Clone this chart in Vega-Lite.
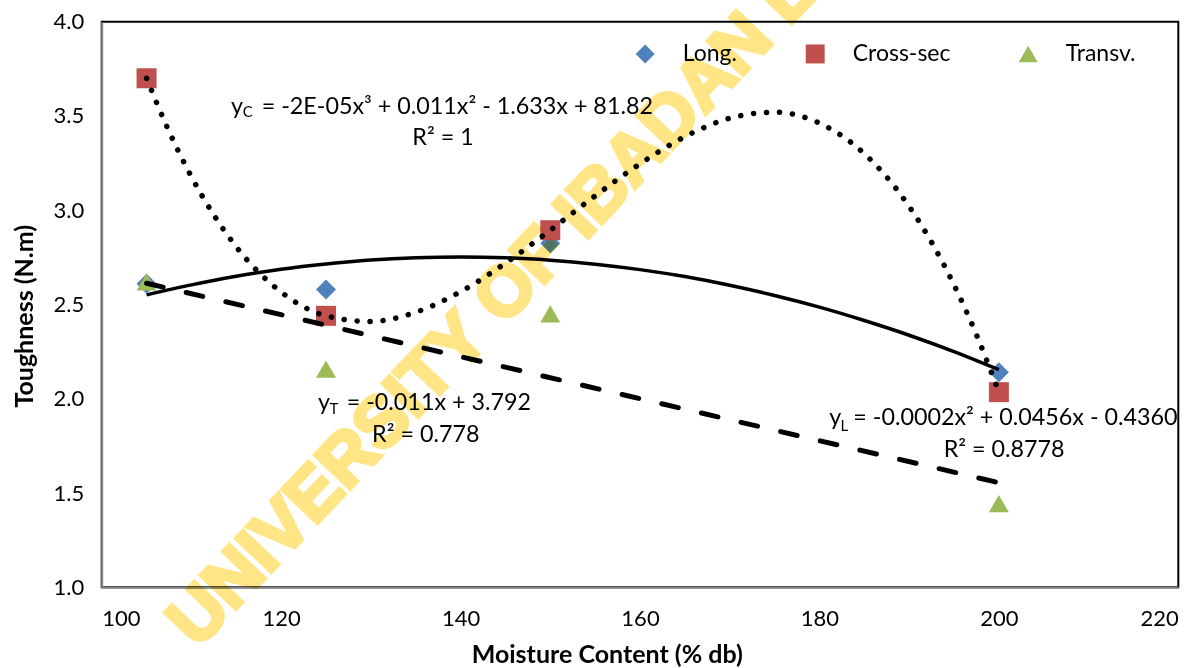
{
  "$schema": "https://vega.github.io/schema/vega-lite/v6.json",
  "width": 1076.6,
  "height": 565.6,
  "autosize": {"type": "none"},
  "padding": {"left": 101.7, "top": 21.7, "right": 22.7, "bottom": 80.7},
  "background": "white",
  "config": {
    "view": {"stroke": "#000000", "strokeWidth": 2},
    "font": "Lato",
    "axis": {"grid": false, "ticks": false, "domainColor": "#868686", "domainWidth": 2, "labelFont": "Lato", "labelFontSize": 22, "labelColor": "#000000", "titleFont": "Lato", "titleFontSize": 25, "titleFontWeight": "bold", "titleColor": "#000000"},
    "legend": {"labelFont": "Lato", "labelFontSize": 23, "labelColor": "#000000"}
  },
  "datasets": {
    "points": [
      {"series": "Long.", "mc": 105, "t": 2.61},
      {"series": "Long.", "mc": 125, "t": 2.58},
      {"series": "Long.", "mc": 150, "t": 2.825},
      {"series": "Long.", "mc": 200, "t": 2.14},
      {"series": "Cross-sec", "mc": 105, "t": 3.70},
      {"series": "Cross-sec", "mc": 125, "t": 2.44},
      {"series": "Cross-sec", "mc": 150, "t": 2.894},
      {"series": "Cross-sec", "mc": 200, "t": 2.035},
      {"series": "Transv.", "mc": 105, "t": 2.62},
      {"series": "Transv.", "mc": 125, "t": 2.157},
      {"series": "Transv.", "mc": 150, "t": 2.45},
      {"series": "Transv.", "mc": 200, "t": 1.444}
    ],
    "trend": [
      {"fit": "L", "mc": 105, "t": 2.551},
      {"fit": "L", "mc": 110, "t": 2.604},
      {"fit": "L", "mc": 115, "t": 2.650},
      {"fit": "L", "mc": 120, "t": 2.687},
      {"fit": "L", "mc": 125, "t": 2.715},
      {"fit": "L", "mc": 130, "t": 2.736},
      {"fit": "L", "mc": 135, "t": 2.748},
      {"fit": "L", "mc": 140, "t": 2.752},
      {"fit": "L", "mc": 145, "t": 2.748},
      {"fit": "L", "mc": 150, "t": 2.735},
      {"fit": "L", "mc": 155, "t": 2.714},
      {"fit": "L", "mc": 160, "t": 2.685},
      {"fit": "L", "mc": 165, "t": 2.648},
      {"fit": "L", "mc": 170, "t": 2.602},
      {"fit": "L", "mc": 175, "t": 2.548},
      {"fit": "L", "mc": 180, "t": 2.486},
      {"fit": "L", "mc": 185, "t": 2.415},
      {"fit": "L", "mc": 190, "t": 2.337},
      {"fit": "L", "mc": 195, "t": 2.250},
      {"fit": "L", "mc": 200, "t": 2.154},
      {"fit": "T", "mc": 105, "t": 2.613},
      {"fit": "T", "mc": 200, "t": 1.555},
      {"fit": "C", "mc": 105, "t": 3.700},
      {"fit": "C", "mc": 107.5, "t": 3.419},
      {"fit": "C", "mc": 110, "t": 3.178},
      {"fit": "C", "mc": 115, "t": 2.806},
      {"fit": "C", "mc": 120, "t": 2.566},
      {"fit": "C", "mc": 125, "t": 2.440},
      {"fit": "C", "mc": 130, "t": 2.410},
      {"fit": "C", "mc": 135, "t": 2.459},
      {"fit": "C", "mc": 140, "t": 2.568},
      {"fit": "C", "mc": 145, "t": 2.719},
      {"fit": "C", "mc": 150, "t": 2.894},
      {"fit": "C", "mc": 155, "t": 3.076},
      {"fit": "C", "mc": 160, "t": 3.246},
      {"fit": "C", "mc": 165, "t": 3.390},
      {"fit": "C", "mc": 170, "t": 3.488},
      {"fit": "C", "mc": 175, "t": 3.520},
      {"fit": "C", "mc": 180, "t": 3.462},
      {"fit": "C", "mc": 185, "t": 3.300},
      {"fit": "C", "mc": 190, "t": 3.020},
      {"fit": "C", "mc": 195, "t": 2.604},
      {"fit": "C", "mc": 197.5, "t": 2.340},
      {"fit": "C", "mc": 200, "t": 2.035}
    ],
    "eqMain": [
      {"mc": 114.41, "t": 3.513, "label": "y"},
      {"mc": 117.83, "t": 3.513, "label": "= -2E-05x³ + 0.011x² - 1.633x + 81.82"},
      {"mc": 124.1, "t": 1.940, "label": "y"},
      {"mc": 127.31, "t": 1.940, "label": "= -0.011x + 3.792"},
      {"mc": 181.1, "t": 1.860, "label": "y"},
      {"mc": 183.77, "t": 1.860, "label": "= -0.0002x² + 0.0456x - 0.4360"}
    ],
    "eqSub": [
      {"mc": 115.72, "t": 3.492, "label": "C"},
      {"mc": 125.4, "t": 1.919, "label": "T"},
      {"mc": 182.35, "t": 1.830, "label": "L"}
    ],
    "eqR2": [
      {"mc": 138.04, "t": 3.346, "label": "R² = 1"},
      {"mc": 136.12, "t": 1.772, "label": "R² = 0.778"},
      {"mc": 200.59, "t": 1.692, "label": "R² = 0.8778"}
    ],
    "mark": [
      {"mc": 110.68, "t": 0.670, "label": "UNIVERSITY OF IBADAN LIBRARY"}
    ]
  },
  "encoding": {
    "x": {"field": "mc", "type": "quantitative", "scale": {"domain": [100, 220], "nice": false, "zero": false},
      "axis": {"values": [100, 120, 140, 160, 180, 200, 220], "format": "d", "labelPadding": 21, "title": "Moisture Content (% db)", "titleX": 505, "titleY": 75.5, "titleBaseline": "alphabetic", "titleAnchor": null, "titleAlign": "center"}},
    "y": {"field": "t", "type": "quantitative", "scale": {"domain": [1, 4], "nice": false, "zero": false},
      "axis": {"values": [1, 1.5, 2, 2.5, 3, 3.5, 4], "format": ".1f", "labelPadding": 18, "title": "Toughness (N.m)", "titleAngle": -90, "titleX": -69, "titleY": 294, "titleBaseline": "alphabetic", "titleAlign": "center"}}
  },
  "layer": [
    {
      "data": {"name": "points"},
      "mark": {"type": "point", "filled": true, "opacity": 1, "size": 400, "strokeWidth": 0},
      "encoding": {
        "color": {"field": "series", "type": "nominal", "scale": {"domain": ["Long.", "Cross-sec", "Transv."], "range": ["#4F81BD", "#C0504D", "#9BBB59"]},
          "legend": {"title": null, "orient": "none", "legendX": 532, "legendY": 20.5, "direction": "horizontal", "symbolSize": 360, "symbolStrokeWidth": 0, "labelOffset": 26, "columnPadding": 66, "padding": 0}},
        "shape": {"field": "series", "type": "nominal", "scale": {"domain": ["Long.", "Cross-sec", "Transv."], "range": ["diamond", "square", "triangle-up"]}}
      }
    },
    {
      "data": {"name": "trend"},
      "transform": [{"filter": "datum.fit === 'L'"}],
      "mark": {"type": "line", "color": "#000000", "strokeWidth": 3.5, "interpolate": "monotone"},
      "encoding": {}
    },
    {
      "data": {"name": "trend"},
      "transform": [{"filter": "datum.fit === 'T'"}],
      "mark": {"type": "line", "color": "#000000", "strokeWidth": 5, "strokeDash": [17, 23.7], "strokeCap": "round"},
      "encoding": {}
    },
    {
      "data": {"name": "trend"},
      "transform": [{"filter": "datum.fit === 'C'"}],
      "mark": {"type": "line", "color": "#000000", "strokeWidth": 5.5, "strokeDash": [0.1, 12.9], "strokeCap": "round", "interpolate": "monotone"},
      "encoding": {}
    },
    {
      "data": {"name": "eqMain"},
      "mark": {"type": "text", "align": "left", "baseline": "alphabetic", "fontSize": 23.3, "font": "Lato", "color": "#000000"},
      "encoding": {"text": {"field": "label"}}
    },
    {
      "data": {"name": "eqSub"},
      "mark": {"type": "text", "align": "left", "baseline": "alphabetic", "fontSize": 15, "font": "Lato", "color": "#000000"},
      "encoding": {"text": {"field": "label"}}
    },
    {
      "data": {"name": "eqR2"},
      "mark": {"type": "text", "align": "center", "baseline": "alphabetic", "fontSize": 23.3, "font": "Lato", "color": "#000000"},
      "encoding": {"text": {"field": "label"}}
    },
    {
      "data": {"name": "mark"},
      "mark": {"type": "text", "align": "left", "baseline": "alphabetic", "fontSize": 71, "font": "Liberation Sans", "fontWeight": "bold", "angle": -46.5, "color": "#FFE585", "stroke": "#FFE585", "strokeWidth": 4, "blend": "multiply"},
      "encoding": {"text": {"field": "label"}}
    }
  ]
}
